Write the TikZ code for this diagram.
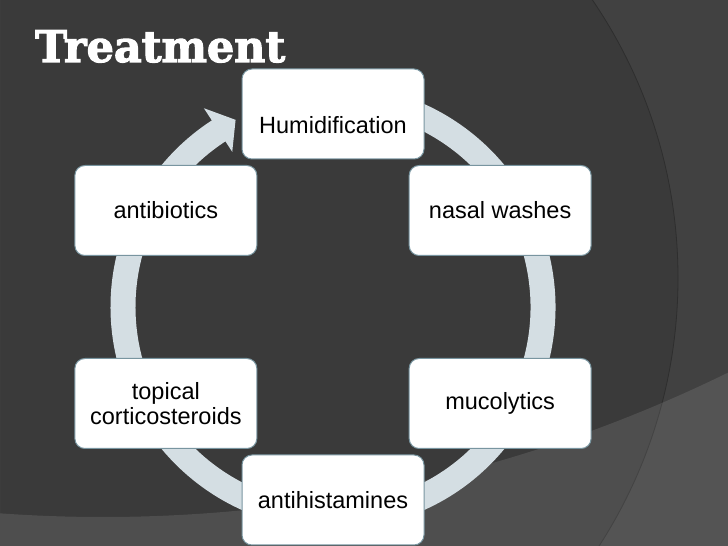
\documentclass[tikz,border=0pt]{standalone}
\usepackage{fontspec}
\usepackage{graphicx}
\setmainfont{Liberation Sans}
\newfontfamily\titlefont{DejaVu Serif}[BoldFeatures={FakeBold=2.5}]
\usetikzlibrary{calc}
\definecolor{bgbase}{HTML}{3A3A3A}
\definecolor{bgout}{HTML}{414141}
\definecolor{ringcol}{HTML}{D4DEE3}
\definecolor{boxline}{HTML}{7895A0}
\definecolor{arcline}{HTML}{2E2E2E}
\begin{document}
\begin{tikzpicture}[x=1pt,y=1pt,
  stepbox/.style={rectangle, rounded corners=10pt, minimum width=182pt, minimum height=90pt,
    fill=white, draw=boxline, line width=1pt, font=\fontsize{23.5}{25}\selectfont,
    align=center, text=black, inner sep=0pt},
  ringline/.style={draw=ringcol, line width=25pt}]
\useasboundingbox (0,0) rectangle (728,546);
% background
\fill[bgout] (0,0) rectangle (728,546);
\begin{scope}
  \clip (0,0) rectangle (728,546);
  \fill[bgbase] (184,268) circle[radius=494];
  \draw[arcline, line width=0.8pt] (184,268) circle[radius=494];
  \fill[white, opacity=0.1, even odd rule] (0,0) rectangle (728,546) (103,1451) circle[radius=1422];
\end{scope}
% title
\node[anchor=base west, text=white, inner sep=0pt] (title) at (35,484)
  {\resizebox{250pt}{31.7pt}{\titlefont\bfseries Treatment}};
% cycle ring
\coordinate (rc) at (333,239);
\draw[ringline] ($(rc)+(100:210)$) arc[start angle=100, end angle=-237.6, radius=210];
\fill[ringcol] ($(rc)+(117.5:211)$) -- ($(rc)+(123:237)$) -- ($(rc)+(123:185)$) -- cycle;
% boxes
\node[stepbox] (hum) at ($(rc)+(90:193)$) {\raisebox{-11pt}[\height][\depth]{Humidification}};
\node[stepbox] (nasal) at ($(rc)+(30:193)$) {nasal washes};
\node[stepbox] (muco) at ($(rc)+(-30:193)$) {mucolytics};
\node[stepbox] (antih) at ($(rc)+(-90:193)$) {antihistamines};
\node[stepbox] (topic) at ($(rc)+(-150:193)$) {topical\\corticosteroids};
\node[stepbox] (antib) at ($(rc)+(150:193)$) {antibiotics};
\end{tikzpicture}
\end{document}
